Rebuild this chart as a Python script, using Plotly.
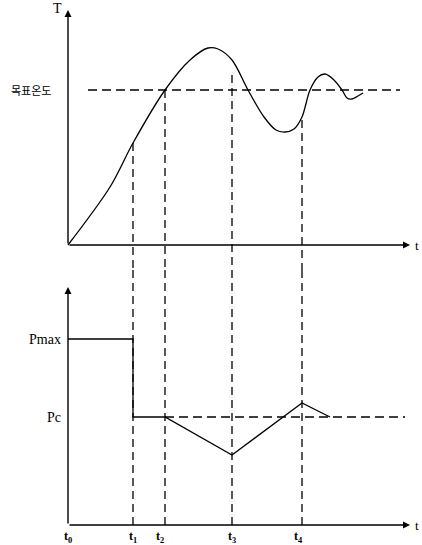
import plotly.graph_objects as go

# ---- data (arbitrary units) ----
# temperature response (top panel)
temp_t = [0, 42, 65, 97, 122, 140, 150, 164, 180, 196, 208, 217, 226, 234, 242, 250, 257, 265, 274, 279, 284, 290, 295]
temp_T = [0, 58, 102, 155, 185, 197, 196, 185, 155, 128, 115, 113, 116, 128, 155, 168, 171, 166, 155, 147, 146, 149, 152]
target_T = 155
target_span = [20, 332]

# power profile (bottom panel)
power_t = [0, 65, 65, 97, 164, 234, 262]
power_P = [186, 186, 108, 108, 70, 122, 108]
Pmax = 186
Pc = 108
pc_span = [97, 337]

# key instants
t_names = ["t<sub>0</sub>", "t<sub>1</sub>", "t<sub>2</sub>", "t<sub>3</sub>", "t<sub>4</sub>"]
t_vals = [0, 65, 97, 164, 234]
t_label_x = [0, 65, 92, 164, 230]
# where each vertical guide starts in the top panel (T units)
guide_top = [None, 102, 155, 170, 125]

x_axis_end = 342
T_axis_top = 235
P_axis_top = 238

fig = go.Figure()
dash_h = "9px,5px"
dash_v = "8px,5px"
blk = "black"

# top panel
fig.add_trace(go.Scatter(x=temp_t, y=temp_T, mode="lines",
                         line=dict(color=blk, width=1.3, shape="spline", smoothing=0.9),
                         xaxis="x", yaxis="y", hoverinfo="skip"))
fig.add_trace(go.Scatter(x=target_span, y=[target_T, target_T], mode="lines",
                         line=dict(color=blk, width=1.3, dash=dash_h), xaxis="x", yaxis="y"))

# bottom panel
fig.add_trace(go.Scatter(x=power_t, y=power_P, mode="lines",
                         line=dict(color=blk, width=1.3), xaxis="x", yaxis="y2"))
fig.add_trace(go.Scatter(x=pc_span, y=[Pc, Pc], mode="lines",
                         line=dict(color=blk, width=1.3, dash=dash_h), xaxis="x", yaxis="y2"))

# vertical guides: top part + bottom part
for tv, top in zip(t_vals, guide_top):
    if top is None:
        continue
    fig.add_trace(go.Scatter(x=[tv, tv], y=[top, -25], mode="lines",
                             line=dict(color=blk, width=1.3, dash=dash_v), xaxis="x", yaxis="y"))
    fig.add_trace(go.Scatter(x=[tv, tv], y=[255, 0], mode="lines",
                             line=dict(color=blk, width=1.3, dash=dash_v), xaxis="x", yaxis="y2"))

ann = []
# axis arrows
def arrow(x, y, ax, ay, yref):
    return dict(x=x, y=y, ax=ax, ay=ay, xref="x", yref=yref, axref="x", ayref=yref,
                text="", showarrow=True, arrowhead=2, arrowsize=1, arrowwidth=1.4, arrowcolor=blk)

ann.append(arrow(x_axis_end, 0, 0, 0, "y"))
ann.append(arrow(0, T_axis_top, 0, 0, "y"))
ann.append(arrow(x_axis_end, 0, 0, 0, "y2"))
ann.append(arrow(0, P_axis_top, 0, 0, "y2"))

serif = "Liberation Serif"
ann.append(dict(x=-11, y=T_axis_top + 2, xref="x", yref="y", text="T", showarrow=False,
                font=dict(family=serif, size=14, color=blk)))
ann.append(dict(x=349, y=0, xref="x", yref="y", text="t", showarrow=False,
                font=dict(family=serif, size=13, color=blk)))
ann.append(dict(x=349, y=0, xref="x", yref="y2", text="t", showarrow=False,
                font=dict(family=serif, size=13, color=blk)))
ann.append(dict(x=-37, y=target_T, xref="x", yref="y", text="목표온도", showarrow=False,
                font=dict(family="Noto Sans CJK KR", size=11, color=blk)))
ann.append(dict(x=-5, y=Pmax, xref="x", yref="y2", text="Pmax", showarrow=False, xanchor="right",
                font=dict(family=serif, size=14, color=blk)))
ann.append(dict(x=-5, y=Pc, xref="x", yref="y2", text="Pc", showarrow=False, xanchor="right",
                font=dict(family=serif, size=14, color=blk)))
for name, lx in zip(t_names, t_label_x):
    ann.append(dict(x=lx, y=-12, xref="x", yref="y2", text="<b>" + name + "</b>", showarrow=False,
                    font=dict(family=serif, size=12, color=blk)))

fig.update_layout(
    width=422, height=545,
    margin=dict(l=0, r=0, t=0, b=0),
    paper_bgcolor="white", plot_bgcolor="white",
    showlegend=False,
    xaxis=dict(range=[-68, 354], visible=False, fixedrange=True),
    yaxis=dict(domain=[275 / 545, 1], range=[-25, 245], visible=False, fixedrange=True),
    yaxis2=dict(domain=[0, 275 / 545], range=[-20, 255], visible=False, fixedrange=True),
    annotations=ann,
)

fig.write_html("out.html", config={"displayModeBar": False},
               post_script="document.body.style.margin='0';document.body.style.padding='0';document.body.style.overflow='hidden';")
